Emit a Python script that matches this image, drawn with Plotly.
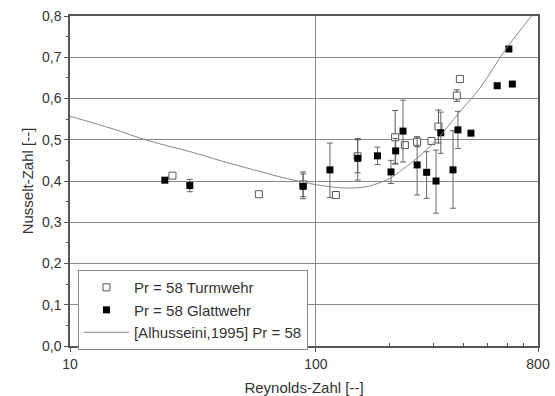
import plotly.graph_objects as go

# Open squares: Pr = 58 Turmwehr
turm_re = [26.1, 58.6, 88.7, 120.5, 147.7, 210, 230, 258, 295, 315, 374, 385]
turm_nu = [0.413, 0.368, 0.392, 0.366, 0.460, 0.506, 0.487, 0.495, 0.497, 0.532, 0.607, 0.647]
turm_err = [0, 0, 0.03, 0, 0.04, 0.065, 0, 0.012, 0, 0.04, 0.014, 0]

# Filled squares: Pr = 58 Glattwehr
glatt_re = [24.3, 30.7, 88.7, 114, 148, 178, 202, 211, 226, 258, 282, 308, 322, 361, 378, 427, 546, 609, 629]
glatt_nu = [0.402, 0.389, 0.387, 0.427, 0.455, 0.461, 0.422, 0.473, 0.521, 0.439, 0.421, 0.400, 0.517, 0.427, 0.524, 0.516, 0.631, 0.720, 0.635]
glatt_err_plus = [0, 0.015, 0.03, 0.065, 0.048, 0.021, 0.028, 0.03, 0.075, 0.068, 0.05, 0.075, 0.05, 0.095, 0.045, 0, 0, 0, 0]
glatt_err_minus = [0, 0.015, 0.03, 0.067, 0.053, 0.021, 0.028, 0.03, 0.075, 0.073, 0.063, 0.078, 0.05, 0.093, 0.045, 0, 0, 0, 0]

# Correlation curve [Alhusseini, 1995] Pr = 58
curve_re = [10, 15, 20.5, 31.7, 43.3, 59.2, 71.4, 86, 105, 133, 160, 182, 202, 225, 249, 300, 385, 464, 596, 753]
curve_nu = [0.557, 0.526, 0.499, 0.469, 0.445, 0.423, 0.410, 0.399, 0.389, 0.383, 0.386, 0.396, 0.408, 0.428, 0.448, 0.491, 0.568, 0.625, 0.722, 0.800]

x_ticks = [10, 100, 800]
x_minor = [20, 30, 40, 50, 60, 70, 80, 90, 200, 300, 400, 500, 600, 700]

font = "Liberation Sans, Arial, sans-serif"

fig = go.Figure()
fig.add_trace(go.Scatter(
    x=turm_re, y=turm_nu, mode="markers", name="Pr = 58 Turmwehr",
    marker=dict(symbol="square", size=7, color="white", line=dict(color="#555", width=1)),
    error_y=dict(type="data", array=turm_err, color="#555", thickness=1, width=3),
))
fig.add_trace(go.Scatter(
    x=glatt_re, y=glatt_nu, mode="markers", name="Pr = 58 Glattwehr",
    marker=dict(symbol="square", size=7, color="black", line=dict(color="black", width=0)),
    error_y=dict(type="data", array=glatt_err_plus, arrayminus=glatt_err_minus,
                 color="#666", thickness=1, width=3),
))
fig.add_trace(go.Scatter(
    x=curve_re, y=curve_nu, mode="lines", name="[Alhusseini,1995] Pr = 58",
    line=dict(color="#888", width=1, shape="spline"),
))

fig.update_layout(
    width=555, height=396,
    margin=dict(l=70, r=17, t=16, b=50),
    paper_bgcolor="white", plot_bgcolor="white",
    separators=",.",
    font=dict(family=font, size=13, color="#333"),
    showlegend=True,
    legend=dict(
        x=0.017, y=0.23, xanchor="left", yanchor="top",
        bordercolor="#888", borderwidth=1, bgcolor="white",
        font=dict(size=15, family=font, color="#333"),
        tracegroupgap=0, itemwidth=45,
    ),
    xaxis=dict(
        type="log", range=[1, 2.90309], automargin=False,
        tickmode="array", tickvals=x_ticks, ticktext=[str(v) for v in x_ticks],
        showgrid=True, gridcolor="#888", gridwidth=1,
        showline=True, linecolor="#555", linewidth=1.5, mirror=True,
        ticks="outside", ticklen=4, tickcolor="#555",
        minor=dict(tickvals=x_minor, ticks="inside", ticklen=3, tickcolor="#555", showgrid=False),
        title=dict(text="Reynolds-Zahl [--]", font=dict(size=15), standoff=12),
        tickfont=dict(size=14),
        zeroline=False,
    ),
    yaxis=dict(
        range=[0, 0.8], dtick=0.1, tick0=0, tickformat=".1f", automargin=False,
        showgrid=True, gridcolor="#888", gridwidth=1,
        showline=True, linecolor="#555", linewidth=1.5, mirror=True,
        ticks="outside", ticklen=4, tickcolor="#555",
        minor=dict(dtick=0.05, ticks="outside", ticklen=2, tickcolor="#555", showgrid=False),
        title=dict(text="Nusselt-Zahl [--]", font=dict(size=15), standoff=5),
        tickfont=dict(size=14),
        zeroline=False,
    ),
)

fig.write_html("out.html", config={"displayModeBar": False},
               post_script="document.body.style.margin='0';")
